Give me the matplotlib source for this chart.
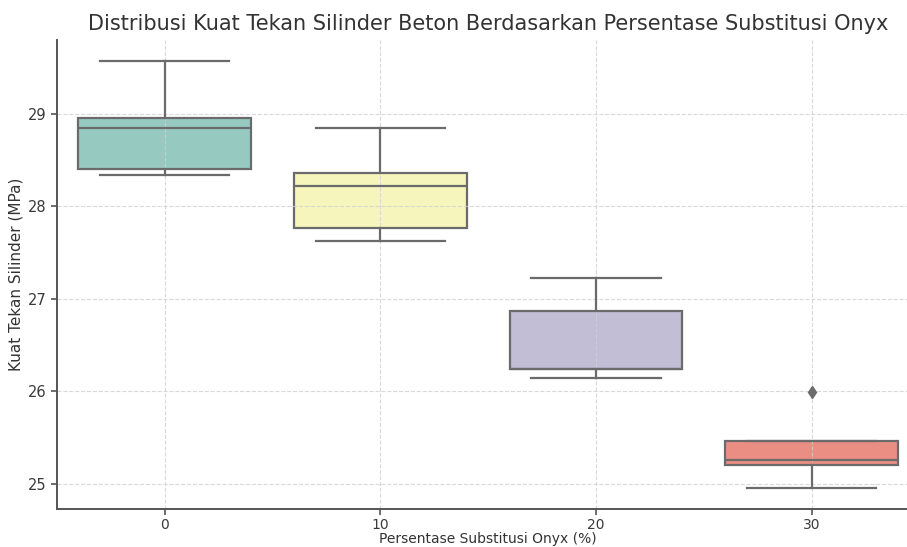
import colorsys
import matplotlib
matplotlib.use("Agg")
import matplotlib.pyplot as plt
import matplotlib.colors as mcolors

# Data
categories = ["0", "10", "20", "30"]
whis_low = [28.34, 27.62, 26.14, 24.96]
q1 = [28.40, 27.76, 26.24, 25.20]
median = [28.85, 28.22, 26.24, 25.26]
q3 = [28.95, 28.36, 26.87, 25.46]
whis_high = [29.57, 28.85, 27.22, 25.46]
fliers = [[], [], [], [25.99]]

base_colors = ["#8dd3c7", "#ffffb3", "#bebada", "#fb8072"]


def desaturate(c, prop=0.75):
    r, g, b = mcolors.to_rgb(c)
    h, l, s = colorsys.rgb_to_hls(r, g, b)
    return colorsys.hls_to_rgb(h, l, s * prop)


colors = [desaturate(c) for c in base_colors]
line_gray = "#6b6b6b"

fig = plt.figure(figsize=(9.07, 5.47), dpi=100)
ax = fig.add_axes([56.7 / 907, (547 - 509.3) / 547, 862.8 / 907, 469.3 / 547])

stats = []
for i in range(len(categories)):
    stats.append(dict(med=median[i], q1=q1[i], q3=q3[i],
                      whislo=whis_low[i], whishi=whis_high[i],
                      fliers=fliers[i], label=categories[i]))

bp = ax.bxp(stats, positions=range(len(categories)), widths=0.8,
            patch_artist=True, showfliers=True,
            boxprops=dict(edgecolor=line_gray, linewidth=1.6),
            medianprops=dict(color=line_gray, linewidth=1.6),
            whiskerprops=dict(color=line_gray, linewidth=1.6),
            capprops=dict(color=line_gray, linewidth=1.6),
            flierprops=dict(marker="d", markerfacecolor=line_gray,
                            markeredgecolor=line_gray, markersize=6))
for patch, col in zip(bp["boxes"], colors):
    patch.set_facecolor(col)
    patch.set_zorder(1)
for key in ["whiskers", "caps", "medians", "fliers"]:
    for ln in bp[key]:
        ln.set_zorder(3)
for cap in bp["caps"]:
    x = cap.get_xdata()
    cx = (x[0] + x[1]) / 2
    cap.set_xdata([cx - 0.3, cx + 0.3])

ax.set_xlim(-0.5, 3.5)
ax.set_ylim(24.727, 29.795)
ax.set_yticks([25, 26, 27, 28, 29])
ax.set_xticks(range(len(categories)))
ax.set_xticklabels(categories)

ax.grid(True, linestyle="--", color="#d0d0d0", linewidth=0.8, alpha=0.8)
for l in ax.get_xgridlines() + ax.get_ygridlines():
    l.set_zorder(1.5)

for side in ["top", "right"]:
    ax.spines[side].set_visible(False)
for side in ["left", "bottom"]:
    ax.spines[side].set_color("#555555")
    ax.spines[side].set_linewidth(1.4)
    ax.spines[side].set_zorder(4)
ax.tick_params(colors="#555555", labelcolor="#3a3a3a", labelsize=10.5, length=4, width=1.2)
ax.tick_params(axis="x", labelsize=10, pad=2)

ax.set_title("Distribusi Kuat Tekan Silinder Beton Berdasarkan Persentase Substitusi Onyx",
             fontsize=15, color="#333333", pad=7)
ax.set_xlabel("Persentase Substitusi Onyx (%)", fontsize=10, color="#333333", labelpad=0)
ax.set_ylabel("Kuat Tekan Silinder (MPa)", fontsize=11, color="#333333", labelpad=3)

fig.savefig("out.png", dpi=100)
